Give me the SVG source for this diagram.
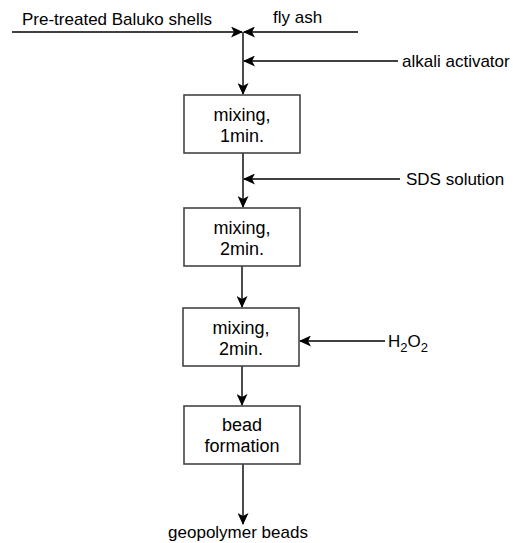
<svg xmlns="http://www.w3.org/2000/svg" width="513" height="543" viewBox="0 0 513 543">
<defs>
<style>
.box{fill:#fff;stroke:#444;stroke-width:1.6}
.ln{fill:none;stroke:#000;stroke-width:1.4}
.t{font-family:"Liberation Sans",Arial,sans-serif;font-size:17px;fill:#000}
.bt{font-family:"Liberation Sans",Arial,sans-serif;font-size:18px;fill:#000;text-anchor:middle}
</style>
<marker id="ah" viewBox="0 0 12 11" refX="11" refY="5.5" markerWidth="12" markerHeight="11" markerUnits="userSpaceOnUse" orient="auto">
<path d="M0,0 L12,5.5 L0,11 L3,5.5 Z" fill="#000"/>
</marker>
</defs>
<rect width="513" height="543" fill="#fff"/>
<g id="connectors">
<path class="ln" d="M12,32 H242" marker-end="url(#ah)"/>
<path class="ln" d="M358,32 H244" marker-end="url(#ah)"/>
<path class="ln" d="M243,32 V94" marker-end="url(#ah)"/>
<path class="ln" d="M398,61 H244" marker-end="url(#ah)"/>
<path class="ln" d="M243,153 V207" marker-end="url(#ah)"/>
<path class="ln" d="M400,179 H244" marker-end="url(#ah)"/>
<path class="ln" d="M242,266 V307" marker-end="url(#ah)"/>
<path class="ln" d="M385,341 H300" marker-end="url(#ah)"/>
<path class="ln" d="M242,366 V405" marker-end="url(#ah)"/>
<path class="ln" d="M243,464 V524" marker-end="url(#ah)"/>
</g>
<g id="label-baluko"><text class="t" x="22" y="25">Pre-treated Baluko shells</text></g>
<g id="label-flyash"><text class="t" x="273" y="23">fly ash</text></g>
<g id="label-alkali"><text class="t" x="402" y="67">alkali activator</text></g>
<g id="mix1"><rect class="box" x="184" y="95" width="116" height="58"/><text class="bt" x="242" y="121">mixing,</text><text class="bt" x="242" y="142">1min.</text></g>
<g id="label-sds"><text class="t" x="406" y="185">SDS solution</text></g>
<g id="mix2"><rect class="box" x="184" y="208" width="116" height="58"/><text class="bt" x="242" y="234">mixing,</text><text class="bt" x="242" y="255">2min.</text></g>
<g id="mix3"><rect class="box" x="183" y="308" width="116" height="58"/><text class="bt" x="241" y="334">mixing,</text><text class="bt" x="241" y="355">2min.</text></g>
<g id="label-h2o2"><text class="t" x="388" y="347">H<tspan font-size="13" dy="5">2</tspan><tspan dy="-5">O</tspan><tspan font-size="13" dy="5">2</tspan></text></g>
<g id="bead"><rect class="box" x="184" y="406" width="116" height="58"/><text class="bt" x="242" y="431">bead</text><text class="bt" x="242" y="452">formation</text></g>
<g id="label-geo"><text class="t" x="238" y="538" text-anchor="middle">geopolymer beads</text></g>
</svg>
